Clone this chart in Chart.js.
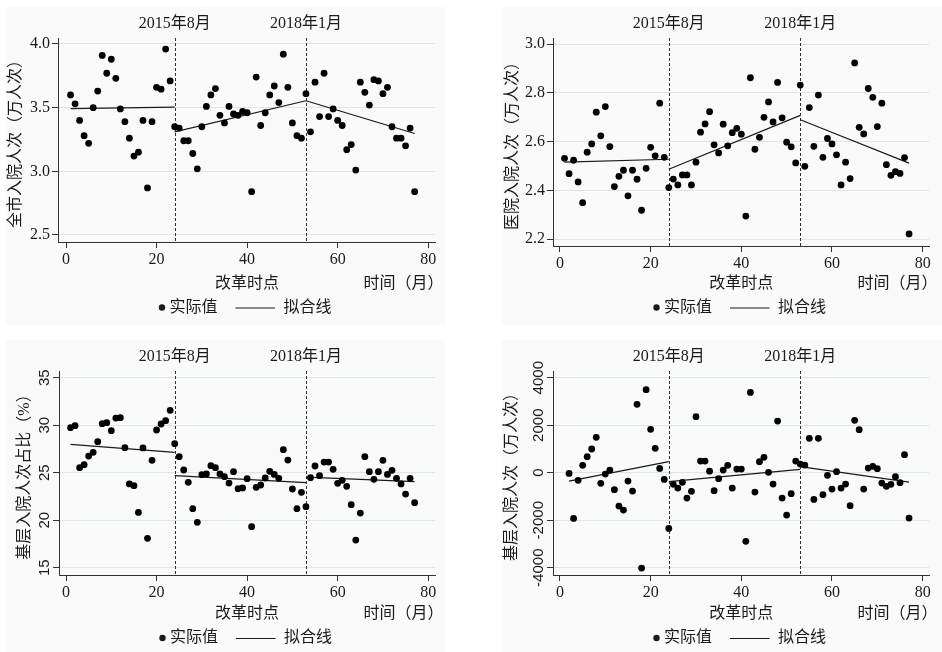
<!DOCTYPE html>
<html>
<head>
<meta charset="utf-8">
<script src="https://cdn.jsdelivr.net/npm/chart.js@4.4.1/dist/chart.umd.min.js"></script>
<style>
  body { margin: 0; background: #fff; width: 942px; height: 652px; overflow: hidden; position: relative; }
  canvas { position: absolute; background: #fafafa; }
</style>
</head>
<body>
<canvas id="p1" width="439" height="318" style="left:6px;top:7px"></canvas>
<canvas id="p2" width="440" height="318" style="left:502px;top:7px"></canvas>
<canvas id="p3" width="439" height="312" style="left:6px;top:340px"></canvas>
<canvas id="p4" width="440" height="312" style="left:502px;top:340px"></canvas>
<script>
// Mois (axe x)
const months = [1,2,3,4,5,6,7,8,9,10,11,12,13,14,15,16,17,18,19,20,21,22,23,24,25,26,27,28,29,30,
  31,32,33,34,35,36,37,38,39,40,41,42,43,44,45,46,47,48,49,50,51,52,53,54,55,56,57,58,59,60,
  61,62,63,64,65,66,67,68,69,70,71,72,73,74,75,76,77];
const monthsDiff = months.slice(1); // la série 4 commence au mois 2
const xTicks = [0, 20, 40, 60, 80];

const breakMonths = [24, 53];
const breakLabels = ['2015年8月', '2018年1月'];

// 全市入院人次（万人次）
const cityVals = [3.60,3.53,3.40,3.28,3.22,3.50,3.63,3.91,3.77,3.88,3.73,3.49,3.39,3.26,3.12,3.15,3.40,2.87,3.39,3.66,
  3.645,3.96,3.71,3.35,3.34,3.24,3.24,3.14,3.02,3.35,3.51,3.60,3.65,3.44,3.38,3.51,3.45,3.44,3.47,3.46,
  2.84,3.74,3.36,3.46,3.60,3.67,3.54,3.92,3.66,3.38,3.28,3.26,3.61,3.31,3.70,3.43,3.77,3.43,3.49,3.40,
  3.36,3.17,3.21,3.01,3.70,3.62,3.52,3.72,3.71,3.61,3.66,3.35,3.26,3.26,3.20,3.34,2.84];
const cityFit = [[[1,3.493],[24,3.504]], [[24,3.31],[53,3.554]], [[53,3.554],[77,3.297]]];
const cityTicks = [2.5, 3.0, 3.5, 4.0];

// 医院入院人次（万人次）
const hospVals = [2.532,2.469,2.524,2.435,2.350,2.557,2.591,2.721,2.624,2.744,2.580,2.416,2.458,2.483,2.378,2.483,2.446,2.319,2.491,2.577,
  2.542,2.758,2.536,2.412,2.447,2.423,2.464,2.464,2.423,2.516,2.639,2.673,2.723,2.587,2.554,2.672,2.583,2.637,2.655,2.631,
  2.295,2.862,2.569,2.618,2.700,2.763,2.681,2.843,2.698,2.598,2.579,2.513,2.832,2.499,2.740,2.581,2.791,2.536,2.613,2.591,
  2.546,2.423,2.516,2.449,2.923,2.659,2.632,2.818,2.782,2.662,2.758,2.506,2.462,2.477,2.470,2.535,2.222];
const hospFit = [[[1,2.516],[24,2.528]], [[24,2.487],[53,2.708]], [[53,2.690],[77,2.512]]];
const hospTicks = [2.2, 2.4, 2.6, 2.8, 3.0];

// 基层入院人次占比（%）
const shareVals = [29.74,29.95,25.53,25.84,26.75,27.14,28.26,30.16,30.26,29.42,30.75,30.79,27.63,23.81,23.63,20.82,27.60,18.09,26.30,29.49,
  30.12,30.47,31.56,28.05,26.68,25.28,23.98,21.21,19.77,24.79,24.86,25.74,25.53,24.86,24.58,23.90,25.10,23.32,23.39,24.37,
  19.32,23.46,23.70,24.44,25.14,24.82,24.40,27.42,26.33,23.28,21.21,22.93,21.42,24.47,25.70,24.68,26.12,26.12,25.35,23.88,
  24.19,23.56,21.63,17.91,20.75,26.68,25.10,24.30,25.10,26.30,24.82,25.25,24.40,23.81,22.75,24.40,21.84];
const shareFit = [[[1,27.98],[24,27.14]], [[24,24.68],[53,23.95]], [[53,24.54],[77,24.05]]];
const shareTicks = [15, 20, 25, 30, 35];

// 基层入院人次（万人次），mois 2 à 77
const baseVals = [-30,-1923,-323,309,674,997,1488,-449,-56,112,-716,-1404,-1572,-351,-772,2877,-4014,3495,1825,
  1025,182,-281,-2344,-491,-646,-407,-1067,-786,2358,491,491,63,-758,-253,112,309,-646,154,154,
  -2891,3382,-814,463,646,14,-477,2175,-1067,-1782,-884,491,365,323,1446,-1123,1446,-926,-112,-688,
  42,-646,-477,-1390,2204,1811,-688,196,267,168,-435,-575,-491,-168,-421,758,-1909];
const baseFit = [[[2,-351],[24,463]], [[24,-379],[53,140]], [[53,253],[77,-393]]];
const baseTicks = [-4000, -2000, 0, 2000, 4000];

const SERIF = '"Liberation Serif", "Noto Sans CJK SC", serif';
const SANS = '"Liberation Sans", Arial, sans-serif';
const INK = '#1a1a1a';
const GRID = '#dbe6e8';

Chart.defaults.font.family = SERIF;
Chart.defaults.font.size = 16;
Chart.defaults.color = INK;

function draw(id, p) {
  const canvas = document.getElementById(id);
  const pts = p.x.map((m, i) => ({ x: m, y: p.y[i] }));

  const extras = {
    id: 'extras',
    beforeDatasetsDraw(chart) {
      const ctx = chart.ctx, a = chart.chartArea, xs = chart.scales.x;
      ctx.save();
      ctx.strokeStyle = '#333';
      ctx.lineWidth = 1;
      ctx.setLineDash([3, 2]);
      breakMonths.forEach(m => {
        const px = Math.round(xs.getPixelForValue(m)) + 0.5;
        ctx.beginPath();
        ctx.moveTo(px, a.top);
        ctx.lineTo(px, a.bottom);
        ctx.stroke();
      });
      ctx.restore();
    },
    afterDraw(chart) {
      const ctx = chart.ctx, a = chart.chartArea, xs = chart.scales.x, ys = chart.scales.y;
      ctx.save();
      ctx.fillStyle = INK;
      ctx.font = '16px ' + SERIF;
      ctx.textBaseline = 'middle';

      // libellés des ruptures
      ctx.textAlign = 'center';
      breakMonths.forEach((m, i) => ctx.fillText(breakLabels[i], xs.getPixelForValue(m), a.top - 14));

      // textes sous l'axe
      ctx.fillText('改革时点', xs.getPixelForValue(40), p.textY);
      ctx.textAlign = 'right';
      ctx.fillText('时间（月）', a.right + 8.5, p.textY);

      // légende
      const cx = (a.left + a.right) / 2, ly = p.legendY;
      ctx.beginPath();
      ctx.arc(cx - 84.5, ly, 3.2, 0, Math.PI * 2);
      ctx.fill();
      ctx.textAlign = 'left';
      ctx.fillText('实际值', cx - 77, ly);
      ctx.strokeStyle = INK;
      ctx.lineWidth = 1;
      ctx.beginPath();
      ctx.moveTo(cx - 11, ly + 0.5);
      ctx.lineTo(cx + 28.5, ly + 0.5);
      ctx.stroke();
      ctx.fillText('拟合线', cx + 37, ly);

      // graduations y verticales (panneaux du bas)
      if (p.rotTicks) {
        ctx.font = '15px ' + SANS;
        ctx.textAlign = 'center';
        ys.ticks.forEach(t => {
          ctx.save();
          ctx.translate(a.left - 14.5, ys.getPixelForValue(t.value));
          ctx.rotate(-Math.PI / 2);
          ctx.fillText(p.fmt(t.value), 0, 0);
          ctx.restore();
        });
      }
      ctx.restore();
    }
  };

  const fitSets = p.fit.map(seg => ({
    type: 'line',
    data: seg.map(([x, y]) => ({ x, y })),
    borderColor: INK,
    borderWidth: 1.2,
    pointRadius: 0,
    fill: false
  }));

  return new Chart(canvas.getContext('2d'), {
    type: 'scatter',
    data: {
      datasets: [{
        data: pts,
        backgroundColor: '#000',
        borderWidth: 0,
        pointRadius: 3.4
      }, ...fitSets]
    },
    options: {
      responsive: false,
      animation: false,
      layout: { padding: { left: 0, top: 31, right: p.padRight, bottom: 0 } },
      plugins: { legend: { display: false }, tooltip: { enabled: false } },
      scales: {
        x: {
          type: 'linear',
          min: p.xMin, max: p.xMax,
          afterBuildTicks: s => { s.ticks = xTicks.map(v => ({ value: v })); },
          afterFit: s => { s.height = p.xHeight; },
          border: { color: '#333', width: 1 },
          grid: { drawOnChartArea: false, tickColor: '#333', tickLength: 6 },
          ticks: { padding: 2, color: INK, font: { size: 16 } }
        },
        y: {
          min: p.yMin, max: p.yMax,
          afterBuildTicks: s => { s.ticks = p.ticks.map(v => ({ value: v })); },
          afterFit: s => { s.width = p.yWidth; },
          border: { color: '#333', width: 1 },
          grid: { color: GRID, tickColor: '#333', tickLength: 6, lineWidth: 1 },
          title: { display: true, text: p.title, padding: { top: p.titlePad, bottom: 0 }, font: { size: 16 }, color: INK },
          ticks: {
            display: !p.rotTicks,
            padding: 2, color: INK,
            callback: v => p.fmt(v)
          }
        }
      }
    },
    plugins: [extras]
  });
}

draw('p1', {
  x: months, y: cityVals, fit: cityFit, ticks: cityTicks, title: '全市入院人次（万人次）',
  xMin: -1.77, xMax: 81.5, yMin: 2.445, yMax: 4.047, fmt: v => v.toFixed(1),
  yWidth: 52, padRight: 10, xHeight: 83, titlePad: 0, textY: 277, legendY: 300.5
});
draw('p2', {
  x: months, y: hospVals, fit: hospFit, ticks: hospTicks, title: '医院入院人次（万人次）',
  xMin: -1.54, xMax: 81.4, yMin: 2.1725, yMax: 3.025, fmt: v => v.toFixed(1),
  yWidth: 51, padRight: 13, xHeight: 79, titlePad: 1, textY: 277, legendY: 300.5
});
draw('p3', {
  x: months, y: shareVals, fit: shareFit, ticks: shareTicks, title: '基层入院人次占比（%）',
  xMin: -1.55, xMax: 81.5, yMin: 14.23, yMax: 35.7, fmt: v => String(v), rotTicks: true,
  yWidth: 53, padRight: 10, xHeight: 77, titlePad: 9, textY: 274, legendY: 298
});
draw('p4', {
  x: monthsDiff, y: baseVals, fit: baseFit, ticks: baseTicks, title: '基层入院人次（万人次）',
  xMin: -1.54, xMax: 81.4, yMin: -4307, yMax: 4282, fmt: v => String(v), rotTicks: true,
  yWidth: 51, padRight: 13, xHeight: 77, titlePad: 0, textY: 274, legendY: 298
});
</script>
</body>
</html>
